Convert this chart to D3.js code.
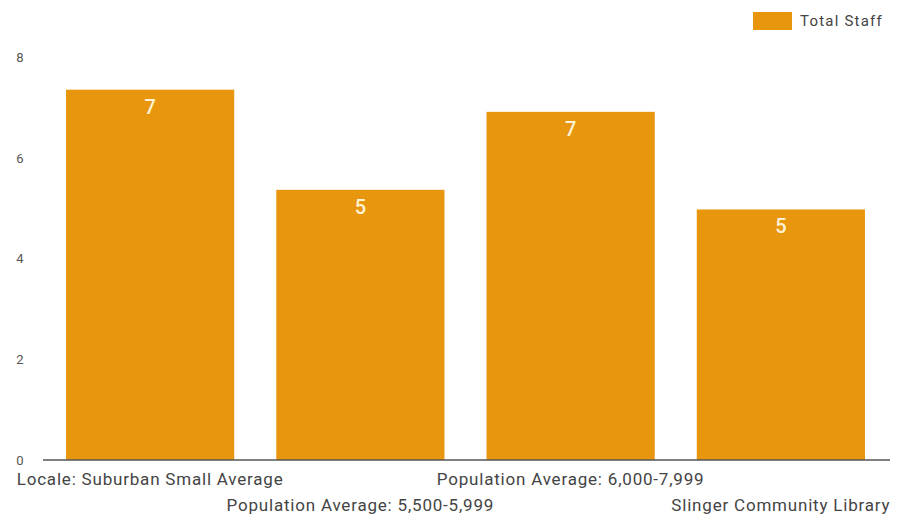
<!DOCTYPE html>
<html>
<head>
<meta charset="utf-8">
<script src="https://cdn.jsdelivr.net/npm/d3@7"></script>
<style>
  html, body { margin: 0; padding: 0; background: #fff; }
  svg { display: block; font-family: Roboto, "Noto Sans", sans-serif; }
</style>
</head>
<body>
<svg id="chart" width="906" height="516"></svg>
<script>
// Library staffing comparison
const categories = [
  "Locale: Suburban Small Average",
  "Population Average: 5,500-5,999",
  "Population Average: 6,000-7,999",
  "Slinger Community Library"
];
const totalStaff = [7.36, 5.37, 6.92, 4.98];
const yTicks = [0, 2, 4, 6, 8];
const seriesName = "Total Staff";

const barColor = "#E9960F";
const svg = d3.select("#chart");

const x = d3.scaleBand()
  .domain(categories)
  .range([45, 886])
  .paddingInner(0.2)
  .paddingOuter(0.1);

const y = d3.scaleLinear()
  .domain([0, 8])
  .range([460, 57.5]);

// y tick labels (no gridlines)
svg.append("g")
  .selectAll("text")
  .data(yTicks)
  .join("text")
  .attr("x", 20)
  .attr("y", d => y(d))
  .attr("dy", "0.35em")
  .attr("text-anchor", "middle")
  .attr("font-size", 13)
  .attr("fill", "#555")
  .text(d => d);

// bars
svg.append("g")
  .selectAll("rect")
  .data(categories)
  .join("rect")
  .attr("x", d => x(d))
  .attr("y", (d, i) => y(totalStaff[i]))
  .attr("width", x.bandwidth())
  .attr("height", (d, i) => y(0) - y(totalStaff[i]))
  .attr("fill", barColor);

// value labels inside the top of each bar
svg.append("g")
  .selectAll("text")
  .data(categories)
  .join("text")
  .attr("x", d => x(d) + x.bandwidth() / 2)
  .attr("y", (d, i) => y(totalStaff[i]) + 17)
  .attr("dy", "0.35em")
  .attr("text-anchor", "middle")
  .attr("font-size", 20)
  .attr("font-weight", 500)
  .attr("fill", "#FFF3D6")
  .text((d, i) => d3.format(".0f")(totalStaff[i]));

// baseline
svg.append("line")
  .attr("x1", 43).attr("x2", 890)
  .attr("y1", y(0)).attr("y2", y(0))
  .attr("stroke", "#555")
  .attr("stroke-width", 1.5);

// category labels, alternating rows
svg.append("g")
  .selectAll("text")
  .data(categories)
  .join("text")
  .attr("x", d => x(d) + x.bandwidth() / 2)
  .attr("y", (d, i) => i % 2 === 0 ? 479 : 505)
  .attr("dy", "0.35em")
  .attr("text-anchor", "middle")
  .attr("font-size", 17)
  .attr("letter-spacing", 0.8)
  .attr("fill", "#444")
  .text(d => d);

// legend
const legend = svg.append("g");
legend.append("rect")
  .attr("x", 753).attr("y", 12)
  .attr("width", 39).attr("height", 18)
  .attr("fill", barColor);
legend.append("text")
  .attr("x", 800).attr("y", 21)
  .attr("dy", "0.35em")
  .attr("font-size", 15)
  .attr("letter-spacing", 1.2)
  .attr("fill", "#444")
  .text(seriesName);
</script>
</body>
</html>
